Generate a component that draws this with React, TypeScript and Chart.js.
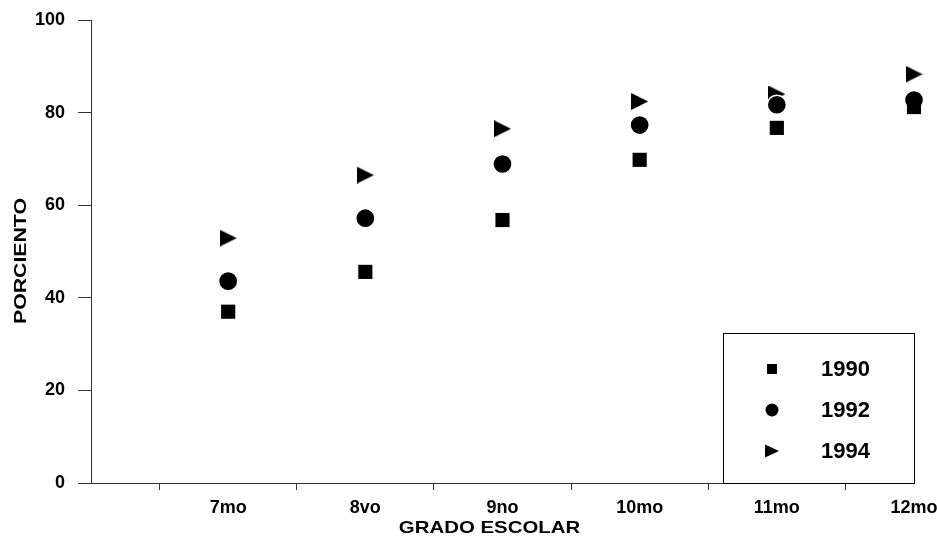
import React, { useEffect, useRef } from 'react';
import { Chart, registerables } from 'chart.js';

Chart.register(...registerables);

const categories = ['7mo', '8vo', '9no', '10mo', '11mo', '12mo'];
const series1990 = [37.0, 45.6, 56.8, 69.8, 76.7, 81.2];
const series1992 = [43.6, 57.2, 68.9, 77.3, 81.7, 82.7];
const series1994 = [52.9, 66.5, 76.5, 82.4, 84.0, 88.3];
const seriesLabels = ['1990', '1992', '1994'];
const yTickStep = 20;
const yMin = 0;
const yMax = 100;
const xTitle = 'GRADO ESCOLAR';
const yTitle = 'PORCIENTO';

const FONT = '"Liberation Sans", Arial, Helvetica, sans-serif';

function makeTriangle(w: number, h: number): HTMLCanvasElement {
  const c = document.createElement('canvas');
  c.width = w;
  c.height = h;
  const g = c.getContext('2d')!;
  g.fillStyle = '#000';
  g.beginPath();
  g.moveTo(0, 0);
  g.lineTo(w, h / 2);
  g.lineTo(0, h);
  g.closePath();
  g.fill();
  return c;
}

function stretchText(ctx: CanvasRenderingContext2D, text: string, x: number, y: number, sx: number, rotate: boolean) {
  ctx.save();
  ctx.translate(x, y);
  if (rotate) ctx.rotate(-Math.PI / 2);
  ctx.scale(sx, 1);
  ctx.textAlign = 'center';
  ctx.textBaseline = 'middle';
  ctx.fillText(text, 0, 0);
  ctx.restore();
}

const overlayPlugin = {
  id: 'overlay',
  afterDraw(chart: any) {
    const ctx: CanvasRenderingContext2D = chart.ctx;
    const area = chart.chartArea;
    ctx.save();
    ctx.fillStyle = '#000';
    ctx.font = `bold 17px ${FONT}`;
    stretchText(ctx, xTitle, 489.5, 528, 1.2, false);
    stretchText(ctx, yTitle, 21, 261, 1.25, true);

    // legend box
    const bx = 723.5;
    const by = 333.5;
    const bw = area.right - 723;
    const bh = area.bottom - 333;
    ctx.fillStyle = '#fff';
    ctx.fillRect(bx, by, bw, bh);
    ctx.strokeStyle = '#000';
    ctx.lineWidth = 1;
    ctx.strokeRect(bx, by, bw, bh);

    const mx = 772;
    const rows = [369, 410, 451];
    ctx.fillStyle = '#000';
    ctx.fillRect(mx - 5, rows[0] - 5, 10, 10);
    ctx.beginPath();
    ctx.arc(mx, rows[1], 6.5, 0, Math.PI * 2);
    ctx.fill();
    ctx.beginPath();
    ctx.moveTo(mx - 7, rows[2] - 6.5);
    ctx.lineTo(mx + 7, rows[2]);
    ctx.lineTo(mx - 7, rows[2] + 6.5);
    ctx.closePath();
    ctx.fill();

    ctx.font = `bold 22px ${FONT}`;
    ctx.textAlign = 'left';
    ctx.textBaseline = 'middle';
    seriesLabels.forEach((l, i) => ctx.fillText(l, 821, rows[i] + 1));
    ctx.restore();
  },
};

export default function App() {
  const ref = useRef<HTMLCanvasElement | null>(null);
  useEffect(() => {
    if (!ref.current) return;
    const tri = makeTriangle(17, 17);
    const toPts = (arr: number[]) => arr.map((v, i) => ({ x: i + 1, y: v }));
    const chart = new Chart(ref.current, {
      type: 'scatter',
      data: {
        datasets: [
          {
            label: seriesLabels[0],
            data: toPts(series1990),
            pointStyle: 'rect',
            pointRadius: 10,
            pointHoverRadius: 10,
            backgroundColor: '#000',
            borderColor: '#000',
            borderWidth: 0,
            clip: false,
            order: 0,
          },
          {
            label: seriesLabels[1],
            data: toPts(series1992),
            pointStyle: 'circle',
            pointRadius: 9.6,
            pointHoverRadius: 9.6,
            backgroundColor: '#000',
            borderColor: '#fff',
            borderWidth: 1.5,
            clip: false,
            order: 1,
          },
          {
            label: seriesLabels[2],
            data: toPts(series1994),
            pointStyle: tri as any,
            pointRadius: 9,
            backgroundColor: '#000',
            borderColor: '#000',
            clip: false,
            order: 2,
          },
        ],
      },
      options: {
        animation: false,
        responsive: false,
        maintainAspectRatio: false,
        layout: { padding: { top: 20, right: 23, left: 0, bottom: 0 } },
        plugins: {
          legend: { display: false },
          tooltip: { enabled: false },
          title: { display: false },
        },
        scales: {
          x: {
            type: 'linear',
            position: 'bottom',
            min: 0,
            max: categories.length,
            afterBuildTicks: (axis: any) => {
              const t: any[] = [];
              for (let i = 0; i < categories.length; i++) {
                t.push({ value: i + 0.5 });
                t.push({ value: i + 1 });
              }
              axis.ticks = t;
            },
            afterFit: (s: any) => {
              s.height = 57;
              s.paddingLeft = 0;
              s.paddingRight = 0;
            },
            ticks: {
              autoSkip: false,
              maxRotation: 0,
              minRotation: 0,
              padding: 7,
              color: '#000',
              font: { family: FONT, size: 18, weight: 'bold' },
              callback: (v: any) => (Number.isInteger(v) ? categories[v - 1] : ''),
            },
            grid: {
              drawOnChartArea: false,
              drawTicks: true,
              tickLength: 7,
              tickWidth: 1,
              tickColor: (c: any) => (c.tick && c.tick.value % 1 !== 0 ? '#333' : 'rgba(0,0,0,0)'),
            },
            border: { color: '#333', width: 1 },
          },
          y: {
            min: yMin,
            max: yMax,
            afterFit: (s: any) => {
              s.width = 91;
              s.paddingTop = 0;
              s.paddingBottom = 0;
            },
            ticks: {
              stepSize: yTickStep,
              padding: 13,
              color: '#000',
              font: { family: FONT, size: 18, weight: 'bold' },
            },
            grid: {
              drawOnChartArea: false,
              drawTicks: true,
              tickLength: 13,
              tickColor: '#333',
            },
            border: { color: '#333', width: 1 },
          },
        },
      },
      plugins: [overlayPlugin],
    });
    return () => chart.destroy();
  }, []);
  return (
    <div style={{ position: 'fixed', left: 0, top: 0, width: 937, height: 540, background: '#fff' }}>
      <canvas ref={ref} width={937} height={540} style={{ display: 'block' }} />
    </div>
  );
}
